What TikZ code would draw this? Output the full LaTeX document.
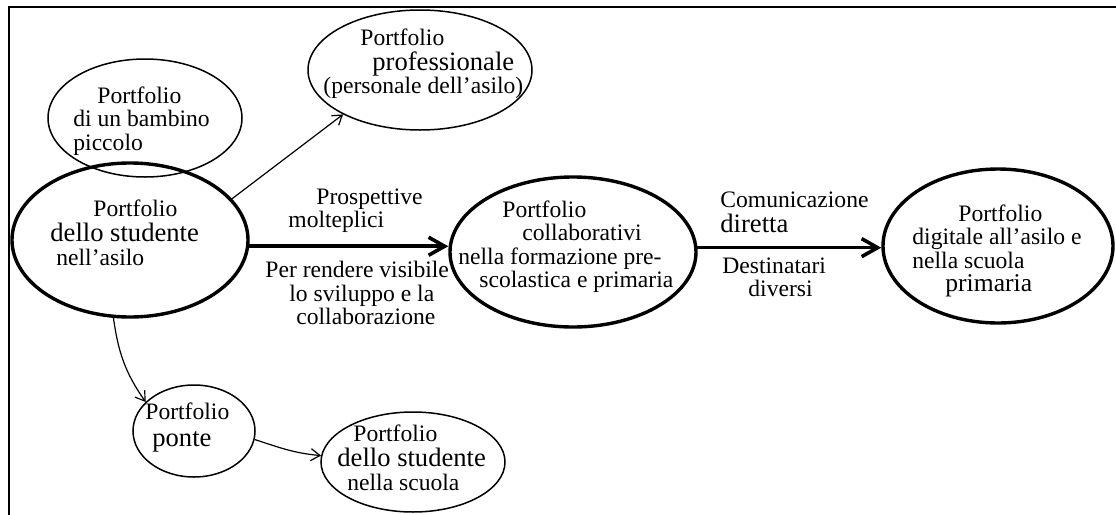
\documentclass[tikz,border=0pt]{standalone}
\usepackage{fontspec}
\setmainfont{Liberation Serif}
\usetikzlibrary{shapes.geometric,arrows.meta}

\tikzset{
  port/.style={ellipse,draw,line width=0.75pt,inner sep=0pt},
  bigport/.style={port,line width=1.7pt},
  txt/.style={inner sep=0pt,align=left,anchor=north west},
  thin arrow/.style={line width=0.6pt,-{Straight Barb[length=4.5pt,width=6pt]}},
  thick arrow/.style={line width=1.8pt,-{Straight Barb[length=8pt,width=9pt]}},
}
\newcommand{\bigtxt}[1]{{\fontsize{13.3}{11.8}\selectfont #1}}

\begin{document}
\begin{tikzpicture}[x=0.5pt,y=-0.5pt,font=\fontsize{11.8}{11.8}\selectfont]
  \useasboundingbox (0,0) rectangle (1116,515);
  % frame
  \draw[line width=1pt] (1116,7) -- (9,7) -- (9,515);

  % ellipses
  \node[port,minimum width=97pt,minimum height=59pt] (kid) at (145,118) {};
  \node[bigport,minimum width=118pt,minimum height=77pt] (asilo) at (130,240) {};
  \node[port,minimum width=112pt,minimum height=60pt] (prof) at (420,70) {};
  \node[bigport,minimum width=123pt,minimum height=75pt] (collab) at (573,252) {};
  \node[bigport,minimum width=115pt,minimum height=77pt] (digital) at (998,246) {};
  \node[port,minimum width=61pt,minimum height=46pt] (ponte) at (194,431) {};
  \node[port,minimum width=92pt,minimum height=50pt] (school) at (413,462) {};

  % texts in the ellipses
  \node[txt] (kid-t) at (73,86) {\hspace*{12pt}Portfolio\\di un bambino\\piccolo};
  \node[txt] (prof-t) at (323,28) {\hspace*{18.5pt}Portfolio\\[1pt]
    \hspace*{24.5pt}\bigtxt{professionale}\\[-0.6pt](personale dell'asilo)};
  \node[txt] (asilo-t) at (50,199) {\hspace*{21.5pt}Portfolio\\[1pt]
    \bigtxt{dello studente}\\\hspace*{3pt}nell'asilo};
  \node[txt] (collab-t) at (458,200) {\hspace*{22pt}Portfolio\\
    \hspace*{32pt}collaborativi\\nella formazione pre-\\
    \hspace*{10.5pt}scolastica e primaria};
  \node[txt] (digital-t) at (912,204) {\hspace*{23pt}Portfolio\\
    digitale all'asilo e\\nella scuola\\
    \hspace*{16.5pt}{\fontsize{12.8}{11.8}\selectfont primaria}};
  \node[txt] (ponte-t) at (145,402) {Portfolio\\[1.7pt]\hspace*{3.5pt}\bigtxt{ponte}};
  \node[txt] (school-t) at (337,424) {\hspace*{8pt}Portfolio\\[1pt]
    \bigtxt{dello studente}\\\hspace*{5pt}nella scuola};

  % labels of the arrows
  \node[txt] (persp-t) at (288,188) {\hspace*{14pt}Prospettive\\molteplici};
  \node[txt] (vis-t) at (265,261) {Per rendere visibile\\
    \hspace*{12pt}lo sviluppo e la\\\hspace*{15.5pt}collaborazione};
  \node[txt] (comm-t) at (720,191) {Comunicazione\\[0.7pt]\bigtxt{diretta}};
  \node[txt] (dest-t) at (722,257) {Destinatari\\\hspace*{13pt}diversi};

  % arrows
  \draw[thin arrow] (asilo.22) -- (prof.210);
  \draw[thick arrow] (asilo.-3) -- (asilo.-3 -| collab.west);
  \draw[thick arrow] (collab.2) -- (collab.2 -| digital.west);
  \draw[thin arrow] (asilo.-102) to[out=-82,in=125] (ponte.149);
  \draw[thin arrow] (ponte.-8) to[out=-18,in=175] (school.176);
\end{tikzpicture}
\end{document}
